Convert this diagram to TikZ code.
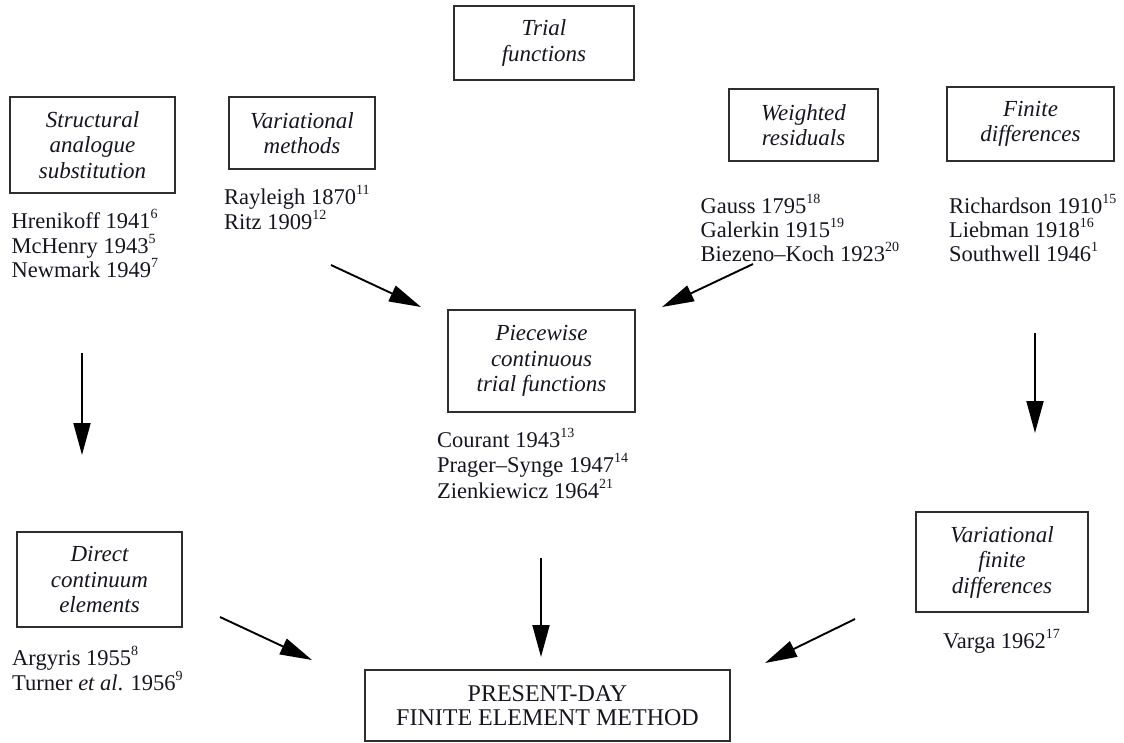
\documentclass[tikz,border=0pt]{standalone}
\usepackage{fontspec}
\setmainfont{Liberation Serif}
\usetikzlibrary{arrows.meta}
\definecolor{ink}{HTML}{15151F}
\definecolor{frame}{HTML}{2E2E2E}
\newcommand{\refnum}[1]{\raisebox{0.42em}{\fontsize{14}{14}\selectfont #1}}
\tikzset{
  box/.style={draw=frame, line width=1.4pt, inner sep=0pt, align=center,
    text=ink, font=\fontsize{23}{25.5}\selectfont\itshape},
  cite/.style={anchor=base west, inner sep=0pt, text=ink,
    font=\fontsize{22.5}{25}\selectfont},
  flow/.style={draw=black, line width=1.9pt,
    -{Triangle[length=32pt,width=17pt]}}
}
\begin{document}
\begin{tikzpicture}[x=1pt,y=-1pt]
\useasboundingbox (0,0) rectangle (1124,742);

% method boxes
\node[box, minimum width=180pt, minimum height=74pt] (trial) at (544,43) {Trial\\functions};
\node[box, minimum width=165pt, minimum height=96pt] (sas) at (92.5,145) {Structural\\analogue\\substitution};
\node[box, minimum width=146pt, minimum height=72pt] (vm) at (302,133) {Variational\\methods};
\node[box, minimum width=149pt, minimum height=72pt] (wr) at (803.5,125) {Weighted\\residuals};
\node[box, minimum width=167pt, minimum height=74pt] (fd) at (1030.5,124) {Finite\\differences};
\node[box, minimum width=187pt, minimum height=102pt] (pw) at (541.5,361) {Piecewise\\continuous\\trial functions};
\node[box, minimum width=165pt, minimum height=95pt] (dce) at (99.5,579.5) {Direct\\continuum\\elements};
\node[box, minimum width=172pt, minimum height=100pt] (vfd) at (1002,562) {Variational\\finite\\differences};
\node[box, minimum width=365pt, minimum height=71pt, font=\fontsize{24}{24}\selectfont] (fem) at (547.5,705.5) {PRESENT-DAY\\FINITE ELEMENT METHOD};

% references under each box
\node[cite] (hr) at (11.5,228) {Hrenikoff 1941\refnum{6}};
\node[cite] (mc) at (11.5,253) {McHenry 1943\refnum{5}};
\node[cite] (nm) at (11.5,277) {Newmark 1949\refnum{7}};

\node[cite] (ra) at (224,204) {Rayleigh 1870\refnum{11}};
\node[cite] (ri) at (224,229) {Ritz 1909\refnum{12}};

\node[cite] (ga) at (700.5,213) {Gauss 1795\refnum{18}};
\node[cite] (gk) at (700.5,237) {Galerkin 1915\refnum{19}};
\node[cite] (bk) at (700.5,261) {Biezeno--Koch 1923\refnum{20}};

\node[cite] (rc) at (949,213) {Richardson 1910\refnum{15}};
\node[cite] (lb) at (949,237) {Liebman 1918\refnum{16}};
\node[cite] (sw) at (949,261) {Southwell 1946\refnum{1}};

\node[cite] (co) at (437,447) {Courant 1943\refnum{13}};
\node[cite] (ps) at (437,472) {Prager--Synge 1947\refnum{14}};
\node[cite] (zk) at (437,498) {Zienkiewicz 1964\refnum{21}};

\node[cite] (ar) at (12,665) {Argyris 1955\refnum{8}};
\node[cite] (tu) at (12,690) {Turner \textit{et al}. 1956\refnum{9}};

\node[cite] (va) at (943,648) {Varga 1962\refnum{17}};

% arrow end points
\coordinate (a1s) at (82,353);   \coordinate (a1e) at (82,455);
\coordinate (a2s) at (1035,333); \coordinate (a2e) at (1035,433);
\coordinate (a3s) at (331,265);  \coordinate (a3e) at (421,307);
\coordinate (a4s) at (753,264);  \coordinate (a4e) at (662,307);
\coordinate (a5s) at (220,617);  \coordinate (a5e) at (312,660);
\coordinate (a6s) at (541,558);  \coordinate (a6e) at (541,657);
\coordinate (a7s) at (855,619);  \coordinate (a7e) at (765,663);

\draw[flow] (a1s) -- (a1e);
\draw[flow] (a2s) -- (a2e);
\draw[flow] (a3s) -- (a3e);
\draw[flow] (a4s) -- (a4e);
\draw[flow] (a5s) -- (a5e);
\draw[flow] (a6s) -- (a6e);
\draw[flow] (a7s) -- (a7e);
\end{tikzpicture}
\end{document}
